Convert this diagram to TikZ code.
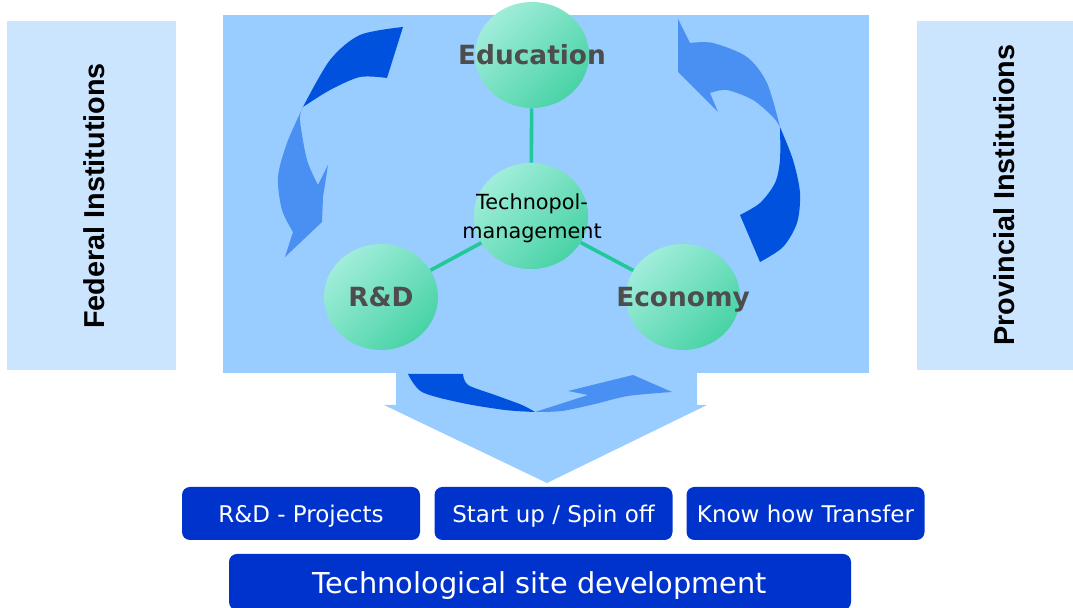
\documentclass[tikz,border=0pt]{standalone}
\usepackage{fontspec}
\setmainfont{DejaVu Sans}
\newfontfamily\instfont{Liberation Sans}
\usepackage{tikz}
\usetikzlibrary{shapes.geometric}
\definecolor{panelblue}{HTML}{99CCFF}
\definecolor{instblue}{HTML}{CCE5FF}
\definecolor{arrowdark}{HTML}{0052DE}
\definecolor{arrowlight}{HTML}{4A8FF2}
\definecolor{bubblelight}{HTML}{A0EDDA}
\definecolor{bubbledark}{HTML}{33CC99}
\definecolor{linkgreen}{HTML}{20C997}
\definecolor{labelgrey}{HTML}{4D4D4D}
\definecolor{boxblue}{HTML}{0033CC}
\tikzset{
  instbox/.style={fill=instblue, inner sep=0pt, minimum height=174.5pt},
  insttext/.style={rotate=90, inner sep=0pt, font=\instfont\bfseries\fontsize{14.4}{17}\selectfont},
  panel/.style={fill=panelblue, inner sep=0pt, minimum width=323pt, minimum height=179pt},
  bubble/.style={ellipse, inner sep=0pt, minimum width=57pt, minimum height=53pt,
    top color=bubblelight, middle color=bubblelight!92!bubbledark, bottom color=bubbledark!80!bubblelight, shading angle=45},
  bubbletext/.style={anchor=base, inner sep=0pt, text=labelgrey, font=\bfseries\fontsize{13.2}{16}\selectfont},
  link/.style={draw=linkgreen, line width=1.8pt},
  outbox/.style={fill=boxblue, rounded corners=4pt, text=white, inner sep=0pt,
    text height=2.1ex, text depth=0.45ex,
    minimum width=119pt, minimum height=26.5pt, font=\fontsize{11.5}{14}\selectfont}
}

\begin{document}
\begin{tikzpicture}[x=0.5pt,y=-0.5pt]
\useasboundingbox (0,0) rectangle (1073,608);

% institutions at the sides
\node[instbox, minimum width=84.5pt] (fed) at (91.5,195.5) {};
\node[instbox, minimum width=81.5pt] (prov) at (998.5,195.5) {};
\node[insttext] (fedtext) at (94,196) {Federal Institutions};
\node[insttext] (provtext) at (1004,195) {Provincial Institutions};

% technopol panel with its output arrow
\node[panel] (pnl) at (546,194) {};
\fill[panelblue] (396,372) -- (396,405) -- (384,405) -- (547,483) -- (707,405) -- (697,405) -- (697,372) -- cycle;

% the four spheres
\node[bubble] (edu) at (532,55) {};
\node[bubble] (tech) at (531,216) {};
\node[bubble] (rd) at (381,297) {};
\node[bubble] (eco) at (683,297) {};
\draw[link] (edu) -- (tech);
\draw[link] (tech) -- (rd);
\draw[link] (tech) -- (eco);
\node[bubble] at (tech) {};
\node[bubbletext] at (532,65) {Education};
\node[bubbletext] at (381,307) {R\&D};
\node[bubbletext] at (683,307) {Economy};
\node[align=center, inner sep=0pt, font=\fontsize{10.4}{14.5}\selectfont] (techtext) at (532,218) {Technopol-\\management};

% cycle arrows: left
\fill[arrowdark] (403,27) -- plot[smooth] coordinates {(403,27) (360,35) (330,60) (303,107)}
  -- plot[smooth] coordinates {(303,107) (330,90) (360,77) (387,78)} -- cycle;
\fill[arrowlight] plot[smooth] coordinates {(303,107) (287,143) (278,177) (282,210) (293,232)}
  -- (285,257) -- (322,222) -- (323,197) -- (328,165) -- (318,185)
  -- plot[smooth] coordinates {(318,185) (307,160) (300,120) (303,107)} -- cycle;
% right
\fill[arrowlight] (678,19) -- (690,43) -- plot[smooth] coordinates {(690,43) (713,43) (747,57) (767,83) (780,127)}
  -- plot[smooth] coordinates {(780,127) (773,117) (753,100) (727,90) (710,93)}
  -- (718,112) -- (678,72) -- cycle;
\fill[arrowdark] plot[smooth] coordinates {(780,127) (793,160) (800,193) (797,223) (783,247) (760,262)}
  -- (740,215) -- plot[smooth] coordinates {(740,215) (760,203) (775,183) (780,160) (780,127)} -- cycle;
% bottom
\fill[arrowdark] (408,374) -- (463,374) -- plot[smooth] coordinates {(463,374) (468,385) (495,395) (522,405) (535,412)}
  -- plot[smooth] coordinates {(535,412) (505,410) (462,403) (422,392) (408,374)} -- cycle;
\fill[arrowlight] plot[smooth] coordinates {(535,412) (560,404) (588,395)}
  -- (568,391) -- (633,375) -- (672,392)
  -- plot[smooth] coordinates {(672,392) (628,396) (595,404) (562,411) (535,412)} -- cycle;

% results
\node[outbox] (proj) at (301,513.5) {R\&D - Projects};
\node[outbox] (spin) at (553.5,513.5) {Start up / Spin off};
\node[outbox] (transfer) at (805.5,513.5) {Know how Transfer};
\node[outbox, text height=2.5ex, minimum width=311pt, minimum height=28pt, font=\fontsize{14.4}{17}\selectfont] (site) at (540,582) {Technological site development};
\end{tikzpicture}
\end{document}
